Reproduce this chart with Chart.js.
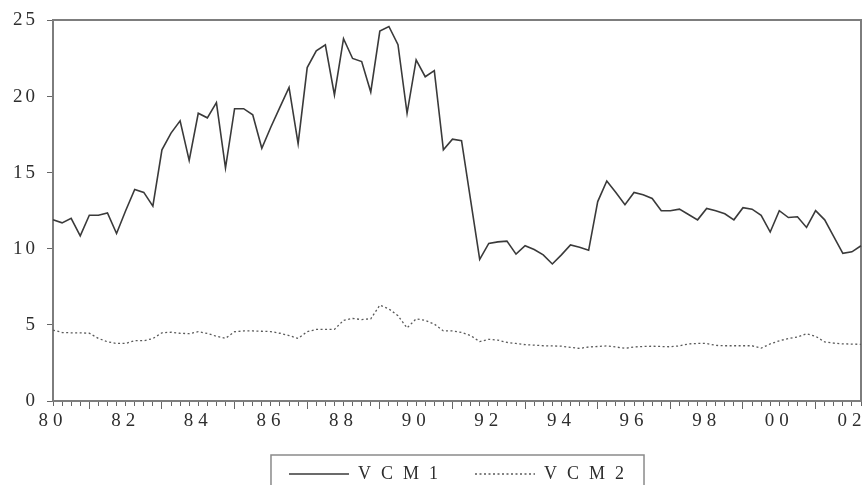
<!DOCTYPE html>
<html><head><meta charset="utf-8">
<script src="https://cdn.jsdelivr.net/npm/chart.js@4/dist/chart.umd.min.js"></script>
<style>html,body{margin:0;padding:0;background:#fff;}</style>
</head><body>
<canvas id="c" width="865" height="485"></canvas>
<script>
// ---- data ----
const startYear = 1980;
const nQuarters = 90; // 1980Q1 .. 2002Q2
const quarters = [];
for (let i = 0; i < nQuarters; i++) quarters.push((startYear + Math.floor(i / 4)) + 'Q' + (i % 4 + 1));
const xTickLabels = ['80','82','84','86','88','90','92','94','96','98','00','02'];
const seriesNames = ['VCM1', 'VCM2'];
const vcm1 = [
  11.9, 11.7, 12.0, 10.85, 12.2, 12.2, 12.35, 11.0, 12.5, 13.9,
  13.7, 12.8, 16.5, 17.6, 18.4, 15.8, 18.9, 18.6, 19.6, 15.3,
  19.2, 19.2, 18.8, 16.6, 18.0, 19.3, 20.6, 16.9, 21.9, 23.0,
  23.4, 20.1, 23.8, 22.5, 22.3, 20.3, 24.3, 24.6, 23.4, 18.9,
  22.4, 21.3, 21.7, 16.5, 17.2, 17.1, 13.2, 9.3, 10.35, 10.45,
  10.5, 9.65, 10.2, 9.95, 9.6, 9.0, 9.6, 10.25, 10.1, 9.9,
  13.1, 14.45, 13.7, 12.9, 13.7, 13.55, 13.3, 12.5, 12.5, 12.6,
  12.25, 11.9, 12.65, 12.5, 12.3, 11.9, 12.7, 12.6, 12.2, 11.1,
  12.5, 12.05, 12.1, 11.4, 12.5, 11.9, 10.8, 9.7, 9.8, 10.2
];
const vcm2 = [
  4.66, 4.5, 4.48, 4.48, 4.45, 4.11, 3.89, 3.78, 3.78, 3.96,
  3.96, 4.1, 4.48, 4.52, 4.45, 4.42, 4.55, 4.44, 4.25, 4.12,
  4.55, 4.6, 4.6, 4.58, 4.56, 4.45, 4.3, 4.11, 4.55, 4.7,
  4.7, 4.7, 5.3, 5.42, 5.35, 5.4, 6.3, 6.05, 5.6, 4.8,
  5.4, 5.3, 5.05, 4.6, 4.6, 4.5, 4.3, 3.9, 4.05, 4.0,
  3.85, 3.78, 3.7, 3.67, 3.63, 3.62, 3.6, 3.52, 3.45, 3.55,
  3.58, 3.62, 3.55, 3.46, 3.55, 3.58, 3.6, 3.58, 3.56, 3.62,
  3.75, 3.78, 3.78, 3.65, 3.63, 3.63, 3.63, 3.63, 3.47, 3.75,
  3.95, 4.1, 4.2, 4.42, 4.25, 3.88, 3.8, 3.75, 3.74, 3.72
];

// ---- style ----
const FONT = "'Liberation Serif', 'Times New Roman', serif";
const AX = '#7d7d7d';
const TXT = '#2e2e2e';
const LEGEND_LS = '10px';
const LEGEND_SHIFT = 31;

const spacingPlugin = {
  id: 'spacing',
  afterInit(chart) {
    const lg = chart.legend;
    if (!lg) return;
    const fit = lg.fit, draw = lg.draw;
    lg.fit = function () { const c = chart.ctx; c.save(); c.letterSpacing = LEGEND_LS; fit.call(this); c.restore(); };
    lg.draw = function () { const c = chart.ctx; c.save(); c.letterSpacing = LEGEND_LS; draw.call(this); c.restore(); };
  },
  afterLayout(chart) {
    const patch = (s, ls) => {
      if (!s || s._lsPatched) return;
      const orig = s.drawLabels;
      s.drawLabels = function (a) { const c = this.ctx; c.save(); c.letterSpacing = ls; orig.call(this, a); c.restore(); };
      s._lsPatched = true;
    };
    patch(chart.scales.x, '5px');
    patch(chart.scales.y, '3px');
    const lg = chart.legend;
    if (lg) { lg.left += LEGEND_SHIFT; lg.right += LEGEND_SHIFT; }
  },
  afterDraw(chart) {
    const lg = chart.legend;
    if (!lg || !lg.legendHitBoxes || !lg.legendHitBoxes.length) return;
    const hb = lg.legendHitBoxes;
    let minX = Infinity, maxX = -Infinity;
    hb.forEach(b => { minX = Math.min(minX, b.left); maxX = Math.max(maxX, b.left + b.width); });
    const top = hb[0].top;
    const c = chart.ctx;
    c.save();
    c.strokeStyle = '#8a8a8a';
    c.lineWidth = 1.5;
    c.strokeRect(minX - 18, top - 10, (maxX - minX) + 28, 60);
    c.restore();
  }
};

new Chart(document.getElementById('c'), {
  type: 'line',
  data: {
    labels: quarters,
    datasets: [
      { label: seriesNames[0], data: vcm1, borderColor: '#3a3a3a', borderWidth: 1.6, pointRadius: 0, fill: false, tension: 0 },
      { label: seriesNames[1], data: vcm2, borderColor: '#5a5a5a', borderWidth: 1.3, borderDash: [2, 2.5], pointRadius: 0, fill: false, tension: 0 }
    ]
  },
  options: {
    responsive: false,
    animation: false,
    devicePixelRatio: 1,
    layout: { padding: { top: 20, right: 4, left: 0, bottom: 0 } },
    plugins: {
      tooltip: { enabled: false },
      legend: {
        position: 'bottom',
        maxHeight: 47,
        labels: {
          usePointStyle: true,
          pointStyle: 'line',
          pointStyleWidth: 60,
          padding: 27,
          color: TXT,
          font: { family: FONT, size: 18 },
          generateLabels(chart) {
            const items = Chart.defaults.plugins.legend.labels.generateLabels(chart);
            items.forEach(it => {
              const ds = chart.data.datasets[it.datasetIndex];
              it.lineDash = ds.borderDash || [];
              it.lineWidth = ds.borderWidth;
              it.strokeStyle = ds.borderColor;
              it.pointStyle = 'line';
            });
            return items;
          }
        }
      }
    },
    scales: {
      x: {
        type: 'category',
        position: 'bottom',
        offset: false,
        afterFit(s) { s.height = 37; },
        grid: {
          display: true, drawOnChartArea: false, drawTicks: true,
          tickLength: 8, tickColor: '#666', tickWidth: 1,
          tickBorderDash: (ctx) => (ctx.index % 8 === 4) ? [] : [4, 40]
        },
        border: { display: true, color: AX, width: 2 },
        ticks: {
          autoSkip: false, maxRotation: 0, minRotation: 0, padding: 1,
          color: TXT, font: { family: FONT, size: 19 },
          callback: (v, i) => (i % 8 === 0) ? xTickLabels[i / 8] : ''
        }
      },
      xTop: {
        type: 'linear', position: 'top', min: 0, max: 1,
        afterFit(s) { s.height = 0; },
        grid: { display: false },
        ticks: { display: false },
        border: { display: true, color: AX, width: 2 }
      },
      y: {
        type: 'linear', position: 'left', min: 0, max: 25,
        afterFit(s) { s.width = 53; },
        grid: { display: true, drawOnChartArea: false, drawTicks: true, tickLength: 6, tickColor: '#666' },
        border: { display: true, color: AX, width: 2 },
        ticks: { stepSize: 5, padding: 9, color: TXT, font: { family: FONT, size: 19 } }
      },
      yRight: {
        type: 'linear', position: 'right', min: 0, max: 25,
        afterFit(s) { s.width = 0; },
        grid: { display: false },
        ticks: { display: false },
        border: { display: true, color: AX, width: 2 }
      }
    }
  },
  plugins: [spacingPlugin]
});
</script>
</body></html>
